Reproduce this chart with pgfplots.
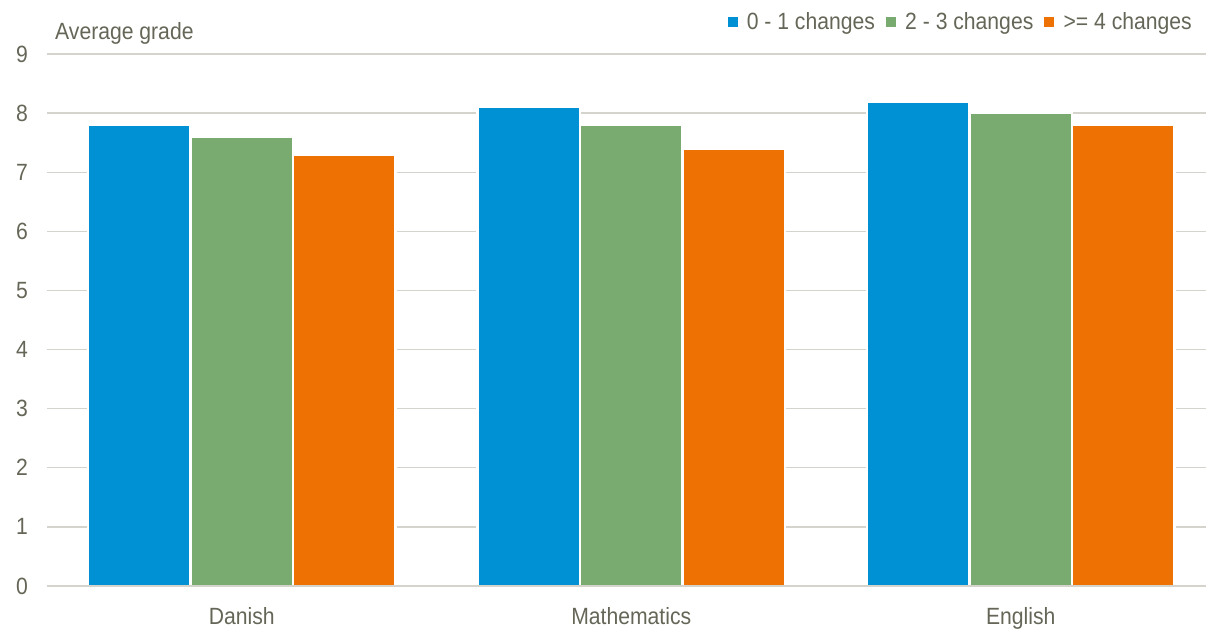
\documentclass[border=0pt]{standalone}
\usepackage{pgfplots}
\pgfplotsset{compat=1.18}
\usepackage{fontspec}
\setmainfont[FakeStretch=0.9]{Liberation Sans}

\definecolor{txt}{RGB}{102,102,88}
\definecolor{gridc}{RGB}{212,212,204}
\definecolor{cblue}{RGB}{0,145,213}
\definecolor{cgreen}{RGB}{121,171,112}
\definecolor{corange}{RGB}{237,114,3}

\newcommand{\lbl}{\fontsize{23.5}{28}\selectfont}

\begin{document}
\begin{tikzpicture}
\begin{axis}[
  name=ax,
  scale only axis,
  width=1159pt, height=532pt,
  xmin=-0.5, xmax=2.4757,
  ymin=0, ymax=9,
  ybar=0pt, bar width=102.5pt,
  xtick={0,1,2},
  xticklabels={Danish,Mathematics,English},
  ytick={0,1,...,9},
  /pgf/number format/assume math mode=true,
  major tick length=0pt,
  axis line style={draw=none},
  ymajorgrids,
  major grid style={gridc, line width=1.3pt},
  tick label style={font=\lbl, text=txt},
  yticklabel style={anchor=east, inner sep=0pt, xshift=-19pt},
  xticklabel style={anchor=base, inner sep=0pt, yshift=-38pt},
  legend columns=3,
  legend style={draw=none, fill=none, font=\lbl, text=txt,
    at={(1,1)}, anchor=east, xshift=-14pt, yshift=32pt,
    inner sep=0pt, nodes={inner sep=0pt},
    /tikz/every even column/.append style={column sep=11pt}},
  legend image code/.code={%
    \fill[#1, draw=none] (0pt,-5pt) rectangle (10pt,5pt);
    \path (18pt,0pt);},
  after end axis/.code={%
    \draw[gridc, line width=1.3pt] (axis cs:-0.5,0) -- (axis cs:2.4757,0);},
]
\addplot[fill=cblue, draw=white, line width=2.5pt] coordinates {(0,7.8) (1,8.1) (2,8.2)};
\addplot[fill=cgreen, draw=white, line width=2.5pt] coordinates {(0,7.6) (1,7.8) (2,8.0)};
\addplot[fill=corange, draw=white, line width=2.5pt] coordinates {(0,7.3) (1,7.4) (2,7.8)};
\legend{0 - 1 changes, 2 - 3 changes, >= 4 changes}
\end{axis}
\node[anchor=base west, font=\lbl, text=txt, inner sep=0pt] at ([xshift=8pt,yshift=14pt]ax.north west) {Average grade};
\pgfresetboundingbox
\path ([xshift=-47pt,yshift=-42pt]ax.south west) rectangle ([yshift=54pt]ax.north east);
\end{tikzpicture}
\end{document}
